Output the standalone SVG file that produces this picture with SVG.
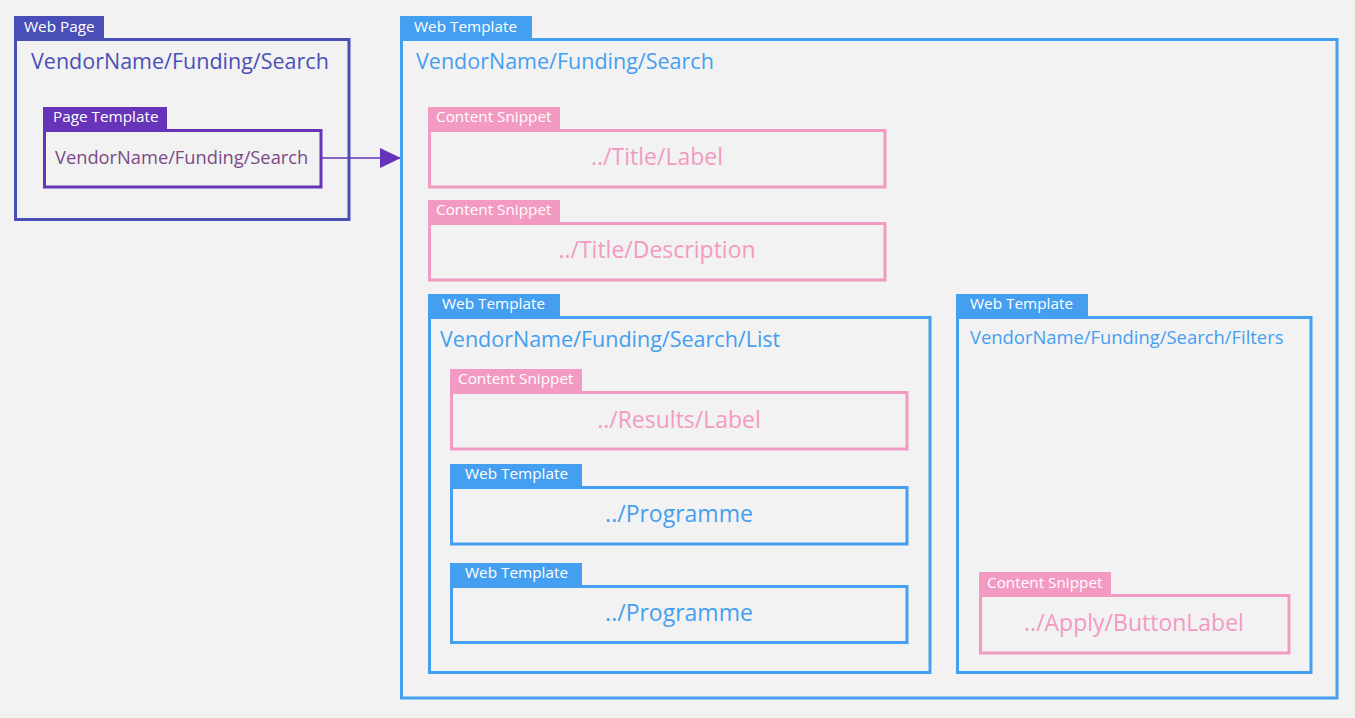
<svg xmlns="http://www.w3.org/2000/svg" width="1355" height="718" viewBox="0 0 1355 718">
<style>
text{font-family:"Open Sans","Noto Sans","Liberation Sans",sans-serif}
.box{fill:none;stroke-width:3}
.tabt{fill:#ffffff;font-size:15.3px}
.wp{stroke:#4a4fb8}.wpf{fill:#4a4fb8}
.pt{stroke:#6634b8}.ptf{fill:#6634b8}
.wt{stroke:#459ff0}.wtf{fill:#459ff0}
.cs{stroke:#f39ac2}.csf{fill:#f39ac2}
.big{font-size:21.5px}
.mid{font-size:23px;text-anchor:middle}
</style>
<defs>
<marker id="arr" markerWidth="22" markerHeight="22" refX="20" refY="10" orient="auto" markerUnits="userSpaceOnUse">
<path d="M0,0 L21,10 L0,20 Z" fill="#6634b8"/>
</marker>
</defs>
<rect width="1355" height="718" fill="#f2f2f2"/>

<g id="webpage">
<rect class="wpf" x="14" y="16" width="90" height="22"/>
<text class="tabt" x="24" y="32">Web Page</text>
<rect class="box wp" x="15.5" y="39.5" width="333.5" height="180"/>
<text class="big" x="31" y="69" fill="#4a4fb8">VendorName/Funding/Search</text>
</g>

<g id="pagetemplate">
<rect class="ptf" x="43" y="107" width="124" height="22"/>
<text class="tabt" x="53" y="122">Page Template</text>
<rect class="box pt" x="44.5" y="130.5" width="276.5" height="56.5"/>
<text x="55" y="164" font-size="18.3" fill="#7a4a86">VendorName/Funding/Search</text>
</g>

<g id="connectors">
<line x1="322" y1="158" x2="400" y2="158" stroke="#6634b8" stroke-width="1.5" marker-end="url(#arr)"/>
</g>

<g id="webtemplate-main">
<rect class="wtf" x="400" y="16" width="132" height="22"/>
<text class="tabt" x="414" y="32">Web Template</text>
<rect class="box wt" x="401.5" y="39.5" width="935.5" height="658.5"/>
<text class="big" x="416" y="69" fill="#459ff0">VendorName/Funding/Search</text>
</g>

<g id="snippet-title-label">
<rect class="csf" x="428" y="107" width="132" height="22"/>
<text class="tabt" x="436" y="122">Content Snippet</text>
<rect class="box cs" x="429.5" y="130.5" width="455.5" height="56.5"/>
<text class="mid" x="657" y="165" fill="#f39ac2">../Title/Label</text>
</g>

<g id="snippet-title-description">
<rect class="csf" x="428" y="200" width="132" height="22"/>
<text class="tabt" x="436" y="215">Content Snippet</text>
<rect class="box cs" x="429.5" y="223.5" width="455.5" height="56.5"/>
<text class="mid" x="657" y="258" fill="#f39ac2">../Title/Description</text>
</g>

<g id="webtemplate-list">
<rect class="wtf" x="428" y="294" width="132" height="22"/>
<text class="tabt" x="442" y="309">Web Template</text>
<rect class="box wt" x="429.5" y="317.5" width="500.5" height="355"/>
<text class="big" x="440" y="347" fill="#459ff0">VendorName/Funding/Search/List</text>
</g>

<g id="snippet-results-label">
<rect class="csf" x="450" y="369" width="132" height="22"/>
<text class="tabt" x="458" y="384">Content Snippet</text>
<rect class="box cs" x="451.5" y="392.5" width="455.5" height="56.5"/>
<text class="mid" x="679" y="428" fill="#f39ac2">../Results/Label</text>
</g>

<g id="webtemplate-programme-1">
<rect class="wtf" x="450" y="464" width="132" height="22"/>
<text class="tabt" x="465" y="479">Web Template</text>
<rect class="box wt" x="451.5" y="487.5" width="455.5" height="56.5"/>
<text class="mid" x="679" y="522" fill="#459ff0">../Programme</text>
</g>

<g id="webtemplate-programme-2">
<rect class="wtf" x="450" y="563" width="132" height="22"/>
<text class="tabt" x="465" y="578">Web Template</text>
<rect class="box wt" x="451.5" y="586.5" width="455.5" height="56"/>
<text class="mid" x="679" y="621" fill="#459ff0">../Programme</text>
</g>

<g id="webtemplate-filters">
<rect class="wtf" x="956" y="294" width="132" height="22"/>
<text class="tabt" x="970" y="309">Web Template</text>
<rect class="box wt" x="957.5" y="317.5" width="353.5" height="355"/>
<text x="970" y="344" font-size="18.4" fill="#459ff0">VendorName/Funding/Search/Filters</text>
</g>

<g id="snippet-apply-buttonlabel">
<rect class="csf" x="979" y="572" width="132" height="22"/>
<text class="tabt" x="987" y="588">Content Snippet</text>
<rect class="box cs" x="980.5" y="595.5" width="308.5" height="57.5"/>
<text x="1134" y="631" font-size="23" text-anchor="middle" fill="#f39ac2">../Apply/ButtonLabel</text>
</g>
</svg>
